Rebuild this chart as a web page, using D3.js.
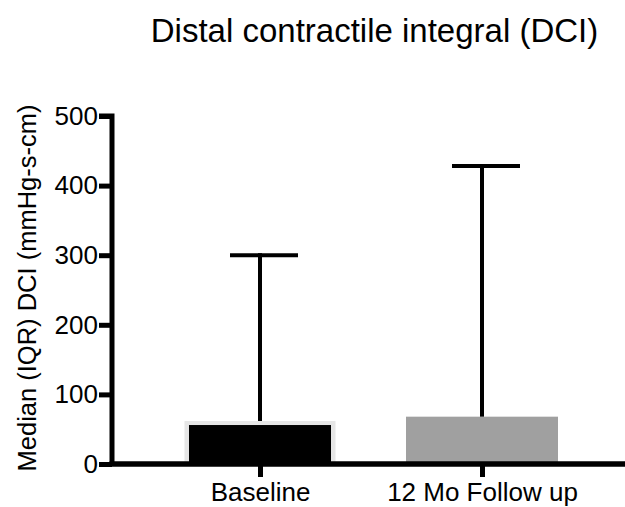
<!DOCTYPE html>
<html><head><meta charset="utf-8">
<script src="https://cdn.jsdelivr.net/npm/d3@7"></script>
<style>body{margin:0;background:#fff}svg{display:block;font-family:"Liberation Sans",Arial,sans-serif}</style>
</head><body><svg id="c" width="625" height="507"></svg>
<script>
const categories = ["Baseline", "12 Mo Follow up"];
const medians = [56, 68];
const upperIQR = [300, 428];
const barColors = ["#000000", "#a0a0a0"];
const yTicks = [0, 100, 200, 300, 400, 500];

const FONT = "Liberation Sans, Arial, sans-serif";
const svg = d3.select("#c");
const y = d3.scaleLinear().domain([0, 500]).range([464, 116]);
const x = d3.scalePoint().domain(categories).range([149, 593]).padding(0.5);
const bw = 152;

// bars
categories.forEach((c, i) => {
  if (i === 0) {
    svg.append("rect").attr("x", x(c) - bw / 2 + 0.5).attr("y", y(medians[i]) - 4)
      .attr("width", bw - 1).attr("height", y(0) - y(medians[i]) + 4).attr("fill", "#e6e6e6");
    svg.append("rect").attr("x", x(c) - bw / 2 + 5).attr("y", y(medians[i]))
      .attr("width", bw - 10).attr("height", y(0) - y(medians[i])).attr("fill", barColors[i]);
  } else {
    svg.append("rect").attr("x", x(c) - bw / 2).attr("y", y(medians[i]))
      .attr("width", bw).attr("height", y(0) - y(medians[i])).attr("fill", barColors[i]);
  }
});

// error bars
categories.forEach((c, i) => {
  const top = i === 0 ? y(medians[i]) - 4 : y(medians[i]);
  svg.append("line").attr("x1", x(c)).attr("x2", x(c)).attr("y1", top).attr("y2", y(upperIQR[i]) - 2)
    .attr("stroke", "#000").attr("stroke-width", 4);
  svg.append("line").attr("x1", x(c) - 30).attr("x2", x(c) + 38).attr("y1", y(upperIQR[i])).attr("y2", y(upperIQR[i]))
    .attr("stroke", "#000").attr("stroke-width", 4);
});

// y axis
const yAxis = d3.axisLeft(y).tickValues(yTicks).tickSize(13).tickPadding(1).tickFormat(d3.format("d"));
const gy = svg.append("g").attr("transform", "translate(112,0)").call(yAxis);
gy.select(".domain").attr("stroke-width", 5).attr("d", "M-13,116H0V466");
gy.selectAll(".tick line").attr("stroke-width", 5);
gy.selectAll(".tick text").attr("font-size", 26).attr("font-family", FONT).attr("fill", "#000");

// x axis
const xAxis = d3.axisBottom(x).tickSize(13).tickPadding(6);
const gx = svg.append("g").attr("transform", "translate(0,464)").call(xAxis);
gx.select(".domain").attr("stroke-width", 5.5).attr("d", "M109.5,0H625");
gx.selectAll(".tick line").attr("stroke-width", 5);
gx.selectAll(".tick text").attr("font-size", 26).attr("font-family", FONT).attr("fill", "#000");

// title
svg.append("text").attr("x", 374.5).attr("y", 42).attr("text-anchor", "middle")
  .attr("font-size", 33).attr("fill", "#000").text("Distal contractile integral (DCI)");

// y label
svg.append("text").attr("transform", "translate(36,288) rotate(-90)").attr("text-anchor", "middle")
  .attr("font-size", 25.5).attr("fill", "#000").text("Median (IQR) DCI (mmHg-s-cm)");
</script></body></html>
